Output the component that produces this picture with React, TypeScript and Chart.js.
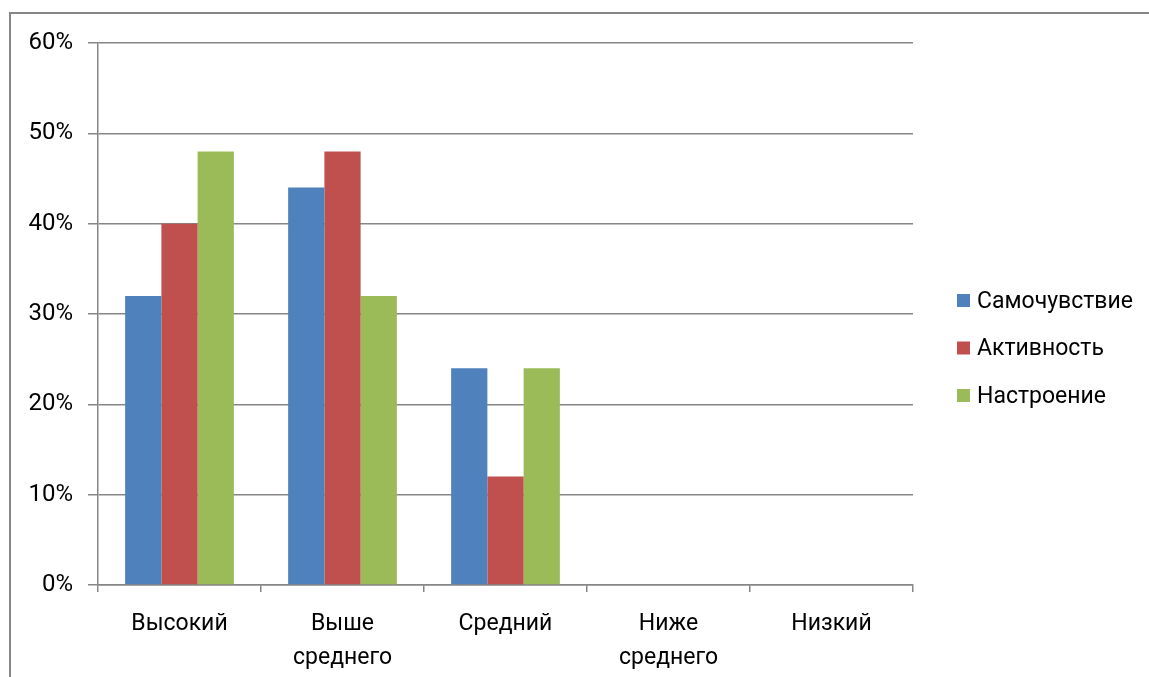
import React, { useEffect, useRef } from "react";
import { Chart, registerables } from "chart.js";
Chart.register(...registerables);

const categories: string[][] = [["Высокий"], ["Выше", "среднего"], ["Средний"], ["Ниже", "среднего"], ["Низкий"]];
const seriesNames = ["Самочувствие", "Активность", "Настроение"];
const samochuvstvie = [32, 44, 24, 0, 0];
const aktivnost = [40, 48, 12, 0, 0];
const nastroenie = [48, 32, 24, 0, 0];
const seriesColors = ["#4F81BD", "#C0504D", "#9BBB59"];
const yMin = 0;
const yMax = 60;
const yStep = 10;

const FONT = "Roboto";
const FS = 23;
const GRID = "#868686";

const sideLegend = {
  id: "sideLegend",
  afterDraw(chart: any) {
    const ctx = chart.ctx;
    const x0 = chart.chartArea.right + 44;
    ctx.save();
    chart.data.datasets.forEach((ds: any, i: number) => {
      const cy = 301 + i * 47.5;
      ctx.fillStyle = ds.backgroundColor;
      ctx.fillRect(x0, cy - 7, 13, 13);
      ctx.fillStyle = "#000";
      ctx.font = `${FS}px ${FONT}`;
      ctx.textBaseline = "middle";
      ctx.textAlign = "left";
      ctx.fillText(ds.label, x0 + 20, cy + 1);
    });
    ctx.restore();
  },
};

export default function App() {
  const ref = useRef<HTMLCanvasElement>(null);
  useEffect(() => {
    if (!ref.current) return;
    const font = { family: FONT, size: FS };
    const chart = new Chart(ref.current, {
      type: "bar",
      data: {
        labels: categories,
        datasets: [
          { label: seriesNames[0], data: samochuvstvie, backgroundColor: seriesColors[0] },
          { label: seriesNames[1], data: aktivnost, backgroundColor: seriesColors[1] },
          { label: seriesNames[2], data: nastroenie, backgroundColor: seriesColors[2] },
        ],
      },
      options: {
        responsive: false,
        animation: false,
        devicePixelRatio: 1,
        layout: { padding: { left: 0, right: 236, top: 43, bottom: 0 } },
        datasets: { bar: { categoryPercentage: 0.667, barPercentage: 1 } },
        plugins: { legend: { display: false }, tooltip: { enabled: false } },
        scales: {
          x: {
            grid: { drawOnChartArea: false, drawTicks: true, tickLength: 7, color: GRID, lineWidth: 1.5 },
            border: { color: GRID, width: 1.5 },
            ticks: { color: "#000", font: { ...font, lineHeight: 1.48 }, padding: 15, maxRotation: 0, autoSkip: false },
            afterFit: (s: any) => { s.height = 92; },
          },
          y: {
            min: yMin,
            max: yMax,
            grid: { color: GRID, lineWidth: 1.5, tickLength: 10 },
            border: { color: GRID, width: 1.5 },
            ticks: { stepSize: yStep, color: "#000", font: { family: FONT, size: 24 }, padding: 15, callback: (v: any) => v + "%" },
            afterFit: (s: any) => { s.width = 98; },
          },
        },
      },
      plugins: [sideLegend],
    });
    return () => chart.destroy();
  }, []);
  return (
    <div style={{ position: "fixed", left: 0, top: 0, width: 1149, height: 677, overflow: "hidden", background: "#fff" }}>
      <div style={{ position: "absolute", left: 9, top: 12, width: 1400, height: 900, border: `2px solid ${GRID}` }} />
      <canvas ref={ref} width={1149} height={677} style={{ position: "absolute", left: 0, top: 0 }} />
    </div>
  );
}
